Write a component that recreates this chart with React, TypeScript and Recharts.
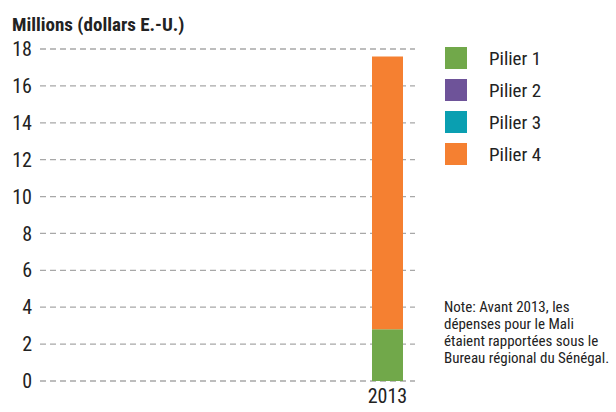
import React from "react";
import { BarChart, Bar, XAxis, YAxis, CartesianGrid } from "recharts";

const categories = ["2013"];
const pilier1 = [2.8];
const pilier2 = [0];
const pilier3 = [0];
const pilier4 = [14.8];
const yTicks = [0, 2, 4, 6, 8, 10, 12, 14, 16, 18];
const seriesNames = ["Pilier 1", "Pilier 2", "Pilier 3", "Pilier 4"];
const seriesColors = ["#71A84A", "#6E5399", "#0A9FB1", "#F58031"];
const title = "Millions (dollars E.-U.)";
const noteLines = [
  "Note: Avant 2013, les",
  "dépenses pour le Mali",
  "étaient rapportées sous le",
  "Bureau régional du Sénégal.",
];

const data = categories.map((c, i) => ({
  year: c,
  p1: pilier1[i],
  p2: pilier2[i],
  p3: pilier3[i],
  p4: pilier4[i],
}));

const FONT = '"Liberation Sans Narrow", "Roboto Condensed", "Liberation Sans", sans-serif';

export default function App() {
  return (
    <div style={{ position: "absolute", left: 0, top: 0, width: 616, height: 412, background: "#fff", fontFamily: FONT }}>
      <div style={{ position: "absolute", left: 12, top: 13, fontSize: 19, fontWeight: "bold", color: "#222", whiteSpace: "nowrap", lineHeight: "24px" }}>
        {title}
      </div>
      <BarChart
        width={616}
        height={412}
        data={data}
        margin={{ top: 49, right: 201, bottom: 1, left: 0 }}
      >
        <CartesianGrid vertical={false} stroke="#a8a8a8" strokeWidth={1.3} strokeDasharray="6 4" />
        <XAxis
          dataKey="year"
          height={30}
          axisLine={false}
          tickLine={false}
          padding={{ left: 320, right: 0 }}
          tick={{ fill: "#222", fontSize: 20, fontFamily: FONT }}
          interval={0}
        />
        <YAxis
          width={40}
          domain={[0, 18]}
          ticks={yTicks}
          axisLine={false}
          tickLine={false}
          tick={{ fill: "#222", fontSize: 20, fontFamily: FONT }}
          interval={0}
        />
        <Bar dataKey="p1" stackId="a" fill={seriesColors[0]} barSize={31} isAnimationActive={false} />
        <Bar dataKey="p2" stackId="a" fill={seriesColors[1]} barSize={31} isAnimationActive={false} />
        <Bar dataKey="p3" stackId="a" fill={seriesColors[2]} barSize={31} isAnimationActive={false} />
        <Bar dataKey="p4" stackId="a" fill={seriesColors[3]} barSize={31} isAnimationActive={false} />
      </BarChart>
      {seriesNames.map((name, i) => (
        <div key={name} style={{ position: "absolute", left: 445, top: 47 + i * 32, height: 22, display: "flex", alignItems: "center" }}>
          <div style={{ width: 22, height: 22, background: seriesColors[i] }} />
          <span style={{ marginLeft: 22, fontSize: 19, color: "#222", whiteSpace: "nowrap" }}>{name}</span>
        </div>
      ))}
      <div style={{ position: "absolute", left: 444, top: 299, fontSize: 15, lineHeight: "17px", color: "#222", whiteSpace: "nowrap" }}>
        {noteLines.map((l) => (
          <div key={l}>{l}</div>
        ))}
      </div>
    </div>
  );
}
